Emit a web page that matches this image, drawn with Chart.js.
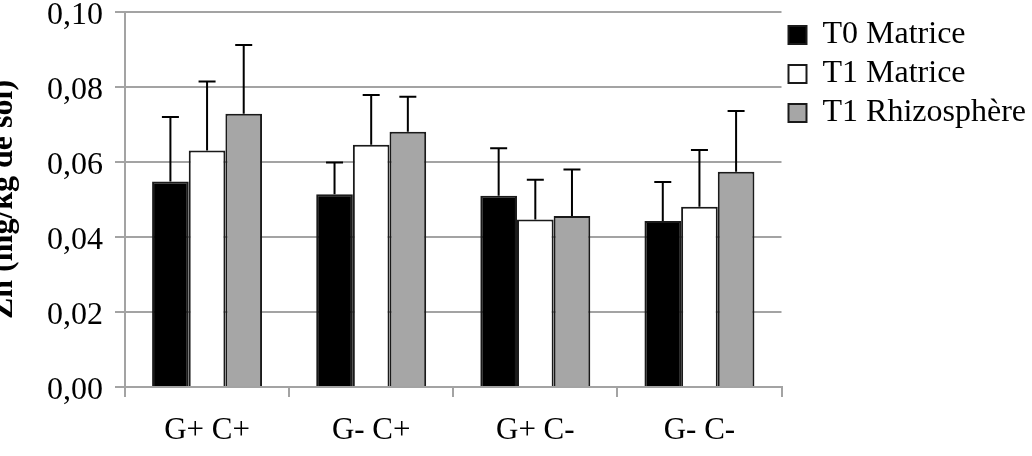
<!DOCTYPE html>
<html>
<head>
<meta charset="utf-8">
<script src="https://cdn.jsdelivr.net/npm/chart.js@4"></script>
<style>
    html, body { margin: 0; padding: 0; background: #fff; overflow: hidden; }
    #wrap { position: relative; width: 1036px; height: 456px; }
</style>
</head>
<body>
<div id="wrap"><canvas id="zn-chart"></canvas></div>
<script>
const categories = ['G+ C+', 'G- C+', 'G+ C-', 'G- C-'];
const seriesNames = ['T0 Matrice', 'T1 Matrice', 'T1 Rhizosphère'];

// mean values (mg/kg de sol)
const t0Matrice = [0.0548, 0.0514, 0.0510, 0.0443];
const t1Matrice = [0.0631, 0.0646, 0.0447, 0.0481];
const t1Rhizosphere = [0.0729, 0.0681, 0.0456, 0.0574];

// upper error bars
const t0MatriceErr = [0.0172, 0.0085, 0.0127, 0.0104];
const t1MatriceErr = [0.0184, 0.0133, 0.0106, 0.0151];
const t1RhizosphereErr = [0.0183, 0.0093, 0.0124, 0.0162];

const yTicks = [0, 0.02, 0.04, 0.06, 0.08, 0.10];

const gridGrey = '#a3a3a3';
const serif = 'Liberation Serif';

Chart.defaults.font.family = serif;
Chart.defaults.color = '#000';

// draws the error bars on top of each bar, using the y scale
const errorBars = {
    id: 'errorBars',
    afterDatasetsDraw(chart) {
        const ctx = chart.ctx;
        const yScale = chart.scales.y;
        ctx.save();
        ctx.strokeStyle = '#000';
        ctx.lineWidth = 2;
        chart.data.datasets.forEach((ds, i) => {
            const meta = chart.getDatasetMeta(i);
            meta.data.forEach((bar, j) => {
                const top = yScale.getPixelForValue(ds.data[j] + ds.errors[j]);
                ctx.beginPath();
                ctx.moveTo(bar.x, bar.y);
                ctx.lineTo(bar.x, top);
                ctx.moveTo(bar.x - 8.5, top);
                ctx.lineTo(bar.x + 8.5, top);
                ctx.stroke();
            });
        });
        ctx.restore();
    }
};

const ctx = document.getElementById('zn-chart').getContext('2d');
new Chart(ctx, {
    type: 'bar',
    data: {
        labels: categories,
        datasets: [{
            label: seriesNames[0],
            data: t0Matrice,
            errors: t0MatriceErr,
            backgroundColor: '#000',
            borderColor: '#1a1a1a',
            borderWidth: 2
        }, {
            label: seriesNames[1],
            data: t1Matrice,
            errors: t1MatriceErr,
            backgroundColor: '#fff',
            borderColor: '#1a1a1a',
            borderWidth: 2
        }, {
            label: seriesNames[2],
            data: t1Rhizosphere,
            errors: t1RhizosphereErr,
            backgroundColor: '#a6a6a6',
            borderColor: '#1a1a1a',
            borderWidth: 2
        }]
    },
    options: {
        responsive: true,
        maintainAspectRatio: false,
        animation: false,
        layout: { padding: { left: 0, right: 0, top: 0, bottom: -8 } },
        datasets: {
            bar: { categoryPercentage: 0.67, barPercentage: 1 }
        },
        scales: {
            x: {
                grid: {
                    offset: true,
                    drawOnChartArea: false,
                    drawTicks: true,
                    tickLength: 10,
                    color: gridGrey,
                    lineWidth: 2
                },
                border: { display: true, color: gridGrey, width: 2 },
                ticks: {
                    padding: 18,
                    font: { size: 31, lineHeight: 1 }
                }
            },
            y: {
                min: 0,
                max: 0.1,
                afterBuildTicks: (axis) => {
                    axis.ticks = yTicks.map(v => ({ value: v }));
                },
                grid: {
                    color: gridGrey,
                    lineWidth: 2,
                    tickLength: 10
                },
                border: { display: true, color: gridGrey, width: 2 },
                ticks: {
                    padding: 12,
                    labelOffset: 4,
                    font: { size: 32, lineHeight: '0px' },
                    callback: (value) => value.toFixed(2).replace('.', ',')
                },
                title: {
                    display: true,
                    text: 'Zn (mg/kg de sol)',
                    font: { size: 32, weight: 'bold', lineHeight: '8px' },
                    padding: { top: 0, bottom: 27 }
                }
            }
        },
        plugins: {
            legend: {
                position: 'right',
                align: 'start',
                fullSize: false,
                labels: {
                    boxWidth: 18,
                    boxHeight: 18,
                    padding: 7,
                    color: '#000',
                    font: { size: 32 }
                }
            },
            tooltip: { enabled: false }
        }
    },
    plugins: [errorBars]
});
</script>
</body>
</html>
